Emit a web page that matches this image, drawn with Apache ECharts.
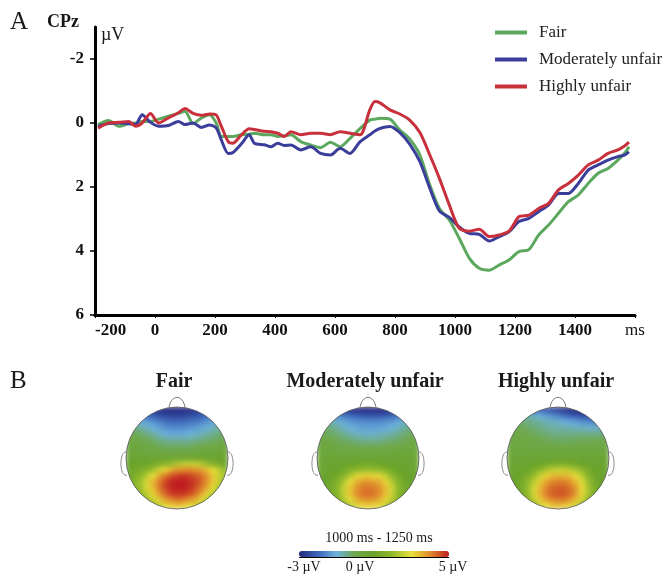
<!DOCTYPE html>
<html>
<head>
<meta charset="utf-8">
<script src="https://cdn.jsdelivr.net/npm/echarts@6/dist/echarts.min.js"></script>
<style>
html,body{margin:0;background:#fff}
#wrap{position:relative;width:670px;height:575px}
#topo,#main{position:absolute;left:0;top:0;width:670px;height:575px}
#topo{filter:blur(2.5px)}
</style>
</head>
<body>
<div id="wrap">
  <div id="topo"></div>
  <div id="main"></div>
</div>
<script>
// ERP at CPz, values in µV (positive plotted downward)
const timesMs = [-190,-155,-120,-87,-65,-43,-15,12,45,78,100,127,155,182,204,221,244,260,288,314,331,364,387,409,431,453,486,519,552,585,617,650,684,716,733,750,783,816,849,883,916,948,981,1014,1048,1081,1114,1147,1180,1213,1246,1279,1312,1345,1378,1411,1444,1477,1510,1543,1565,1580]
const fairUv = [0.05,-0.08,0.1,0.02,0.0,-0.05,-0.05,-0.12,-0.21,-0.3,-0.37,0.02,-0.16,-0.26,0.0,0.42,0.42,0.42,0.37,0.35,0.32,0.37,0.37,0.42,0.4,0.37,0.58,0.69,0.77,0.6,0.74,0.48,0.17,-0.09,-0.12,-0.15,-0.12,0.22,0.5,1.0,1.94,2.67,3.03,3.6,4.23,4.54,4.6,4.44,4.28,4.02,3.96,3.5,3.19,2.82,2.46,2.25,1.89,1.57,1.42,1.16,0.95,0.74]
const moderateUv = [0.1,0.02,0.0,0.02,0.05,-0.26,-0.02,0.1,0.08,-0.05,0.05,0.0,0.14,0.06,0.15,0.53,0.95,0.92,0.65,0.37,0.63,0.68,0.74,0.63,0.7,0.69,0.84,0.74,0.95,1.0,0.79,0.95,0.58,0.37,0.25,0.17,0.11,0.3,0.66,1.21,2.04,2.75,2.95,3.25,3.45,3.48,3.69,3.55,3.4,3.08,2.98,2.77,2.56,2.2,2.2,1.89,1.47,1.31,1.16,1.05,1.0,0.9]
const highlyUv = [0.16,0.0,-0.02,-0.05,0.1,0.0,-0.3,0.0,-0.16,-0.32,-0.45,-0.3,-0.24,-0.28,-0.25,0.1,0.58,0.63,0.37,0.18,0.2,0.26,0.27,0.32,0.42,0.27,0.37,0.32,0.32,0.37,0.27,0.32,0.37,-0.41,-0.67,-0.63,-0.41,-0.28,-0.09,0.3,1.0,1.73,2.56,3.29,3.38,3.32,3.55,3.5,3.38,2.93,2.88,2.67,2.51,2.09,1.89,1.63,1.31,1.16,0.95,0.84,0.72,0.6]

const conditionNames = ['Fair','Moderately unfair','Highly unfair']
const yTicks = [-2,0,2,4,6]

// topographies 1000-1250 ms, 17x17 grid (row 0 = front of head)
const fairTopo = [
  [-1.8,-2,-2.2,-2.4,-2.6,-2.8,-3,-3,-3,-3,-2.9,-2.7,-2.5,-2.2,-2,-1.8,-1.6],
  [-1.4,-1.5,-1.7,-1.9,-2.1,-2.3,-2.4,-2.5,-2.5,-2.5,-2.4,-2.3,-2.1,-1.9,-1.7,-1.5,-1.4],
  [-0.6,-0.8,-1.0,-1.2,-1.4,-1.6,-1.8,-1.9,-1.9,-1.9,-1.8,-1.7,-1.6,-1.4,-1.2,-1.0,-0.8],
  [-0.3,-0.4,-0.6,-0.8,-1.0,-1.2,-1.4,-1.5,-1.5,-1.5,-1.4,-1.3,-1.2,-1.0,-0.8,-0.6,-0.5],
  [0,-0.1,-0.2,-0.4,-0.6,-0.8,-1.0,-1.1,-1.1,-1.1,-1.0,-0.9,-0.8,-0.6,-0.5,-0.3,-0.2],
  [0.2,0.1,0,-0.1,-0.2,-0.4,-0.5,-0.6,-0.6,-0.6,-0.6,-0.5,-0.4,-0.3,-0.2,-0.1,0],
  [0.4,0.3,0.2,0.1,0,-0.1,-0.2,-0.2,-0.2,-0.2,-0.2,-0.1,0,0,0.1,0.2,0.3],
  [0.6,0.5,0.4,0.3,0.3,0.2,0.2,0.2,0.2,0.2,0.2,0.3,0.3,0.3,0.4,0.5,0.6],
  [0.8,0.7,0.6,0.6,0.6,0.6,0.6,0.7,0.7,0.7,0.8,0.8,0.8,0.8,0.8,0.8,0.8],
  [1.0,1.0,1.0,1.1,1.2,1.4,1.7,2.0,2.3,2.5,2.6,2.6,2.4,2.0,1.6,1.3,1.1],
  [1.1,1.2,1.4,1.7,2.1,2.6,3.1,3.5,3.8,3.9,4.0,3.9,3.7,3.4,3.0,2.5,2.0],
  [1.2,1.5,1.9,2.4,3.0,3.6,4.1,4.5,4.7,4.8,4.7,4.5,4.3,3.9,3.3,2.7,2.1],
  [1.3,1.7,2.2,2.8,3.5,4.1,4.6,4.9,5.0,5.0,4.9,4.7,4.4,3.9,3.3,2.6,2.0],
  [1.3,1.7,2.2,2.8,3.4,4.1,4.6,4.9,5.0,5.0,4.9,4.6,4.2,3.7,3.0,2.3,1.8],
  [1.2,1.5,2.0,2.5,3.1,3.8,4.3,4.7,4.8,4.8,4.6,4.3,3.8,3.1,2.4,1.8,1.4],
  [1.0,1.3,1.7,2.1,2.6,3.2,3.7,4.0,4.2,4.1,3.9,3.6,3.1,2.5,2.0,1.6,1.2],
  [0.8,1.0,1.3,1.6,2.0,2.5,2.9,3.2,3.3,3.2,3.0,2.7,2.3,1.9,1.5,1.2,1.0]
]
const moderateTopo = [
  [-1.8,-2,-2.2,-2.4,-2.6,-2.8,-2.9,-3,-3,-3,-3,-2.9,-2.7,-2.5,-2.2,-2,-1.8],
  [-1.0,-1.1,-1.3,-1.5,-1.7,-1.9,-2.0,-2.1,-2.2,-2.2,-2.2,-2.1,-2.0,-1.8,-1.6,-1.4,-1.2],
  [-0.4,-0.5,-0.7,-0.9,-1.1,-1.3,-1.4,-1.5,-1.5,-1.5,-1.5,-1.4,-1.3,-1.1,-0.9,-0.7,-0.5],
  [-0.2,-0.3,-0.4,-0.6,-0.8,-1.0,-1.1,-1.2,-1.2,-1.2,-1.2,-1.1,-1.0,-0.8,-0.6,-0.4,-0.3],
  [0,-0.1,-0.2,-0.3,-0.5,-0.6,-0.8,-0.8,-0.9,-0.9,-0.8,-0.7,-0.6,-0.5,-0.3,-0.2,-0.1],
  [0.2,0.1,0,-0.1,-0.2,-0.3,-0.4,-0.5,-0.5,-0.5,-0.5,-0.4,-0.3,-0.2,-0.1,0,0.1],
  [0.3,0.3,0.2,0.1,0,0,-0.1,-0.1,-0.1,-0.1,-0.1,0,0,0.1,0.2,0.2,0.3],
  [0.5,0.4,0.4,0.3,0.3,0.3,0.3,0.3,0.3,0.3,0.3,0.3,0.3,0.4,0.4,0.5,0.5],
  [0.6,0.6,0.6,0.6,0.6,0.6,0.6,0.6,0.6,0.6,0.6,0.6,0.6,0.6,0.6,0.6,0.6],
  [0.7,0.7,0.7,0.8,0.9,1.0,1.1,1.2,1.2,1.2,1.1,1.0,0.9,0.8,0.7,0.7,0.7],
  [0.8,0.8,0.9,1.0,1.2,1.5,1.8,2.0,2.1,2.0,1.9,1.6,1.3,1.0,0.9,0.8,0.8],
  [0.9,0.9,1.0,1.3,1.7,2.3,2.8,3.1,3.2,3.1,2.9,2.5,1.9,1.4,1.0,0.9,0.8],
  [0.9,1.0,1.2,1.6,2.3,3.0,3.5,3.8,3.9,3.8,3.6,3.1,2.4,1.7,1.2,0.9,0.8],
  [0.9,1.0,1.3,1.8,2.6,3.3,3.8,4.1,4.2,4.1,3.9,3.4,2.7,1.9,1.3,1.0,0.8],
  [0.9,1.0,1.3,1.8,2.6,3.3,3.9,4.2,4.3,4.2,3.9,3.4,2.7,1.9,1.3,1.0,0.8],
  [0.8,0.9,1.2,1.6,2.3,3.0,3.5,3.8,3.9,3.8,3.6,3.1,2.4,1.7,1.2,0.9,0.8],
  [0.7,0.8,1.0,1.3,1.8,2.4,2.8,3.1,3.2,3.1,2.9,2.5,2.0,1.5,1.1,0.8,0.7]
]
const highlyTopo = [
  [-1.0,-1.2,-1.4,-1.6,-1.8,-2.0,-2.2,-2.4,-2.6,-2.8,-2.9,-3,-3,-3,-2.9,-2.7,-2.5],
  [-0.3,-0.4,-0.5,-0.6,-0.8,-1.0,-1.2,-1.4,-1.6,-1.8,-2.0,-2.2,-2.3,-2.4,-2.4,-2.3,-2.2],
  [-0.1,-0.2,-0.3,-0.4,-0.5,-0.6,-0.7,-0.8,-0.9,-1.0,-1.1,-1.2,-1.4,-1.5,-1.6,-1.6,-1.5],
  [0,0,-0.1,-0.2,-0.3,-0.4,-0.5,-0.6,-0.6,-0.7,-0.7,-0.8,-0.8,-0.9,-0.9,-0.9,-0.8],
  [0.1,0.1,0,0,-0.1,-0.2,-0.3,-0.4,-0.4,-0.4,-0.4,-0.4,-0.4,-0.4,-0.4,-0.4,-0.3],
  [0.2,0.2,0.2,0.1,0.1,0,-0.1,-0.1,-0.2,-0.2,-0.2,-0.1,-0.1,-0.1,-0.1,0,0],
  [0.3,0.3,0.3,0.3,0.2,0.2,0.1,0.1,0.1,0.1,0.1,0.1,0.1,0.1,0.1,0.2,0.2],
  [0.4,0.4,0.4,0.4,0.4,0.4,0.4,0.4,0.4,0.4,0.4,0.4,0.4,0.4,0.4,0.4,0.4],
  [0.6,0.6,0.6,0.6,0.6,0.6,0.6,0.7,0.7,0.7,0.7,0.7,0.6,0.6,0.6,0.6,0.6],
  [0.7,0.7,0.7,0.8,0.9,1.0,1.2,1.3,1.4,1.4,1.3,1.2,1.0,0.9,0.8,0.7,0.7],
  [0.8,0.8,0.9,1.1,1.4,1.8,2.2,2.5,2.6,2.6,2.5,2.2,1.8,1.4,1.0,0.9,0.8],
  [0.9,0.9,1.1,1.5,2.0,2.6,3.1,3.4,3.5,3.5,3.4,3.0,2.5,1.8,1.2,0.9,0.8],
  [0.9,1.0,1.3,1.8,2.5,3.2,3.7,4.0,4.1,4.1,3.9,3.5,2.9,2.1,1.4,1.0,0.8],
  [0.9,1.0,1.4,2.0,2.8,3.5,4.0,4.3,4.4,4.4,4.2,3.8,3.1,2.3,1.5,1.1,0.8],
  [0.9,1.0,1.4,2.0,2.8,3.5,4.1,4.4,4.5,4.5,4.3,3.8,3.1,2.3,1.5,1.1,0.8],
  [0.8,0.9,1.3,1.8,2.5,3.2,3.7,4.0,4.1,4.1,3.9,3.4,2.7,2.0,1.3,1.0,0.8],
  [0.7,0.8,1.1,1.5,2.0,2.6,3.0,3.3,3.4,3.3,3.1,2.7,2.2,1.6,1.2,0.9,0.7]
]
const topoMin = -3
const topoMax = 5
const topoColors = ['#25297f', '#3b64b8', '#6cb2dd', '#6fa84a', '#6aa32a', '#93ba2c', '#e8e13a', '#e08a2c', '#c01d20']

const serif = '"Liberation Serif", "Times New Roman", serif'
const lineColors = ['#5ca85f', '#3b3d9b', '#c8303b']
const headCx = [177, 368, 558]
const headCy = 458
const headR = 51
const N = 17

// ---- scalp maps (own layer, softened a little) ----
const topoChart = echarts.init(document.getElementById('topo'))

// cells of each map, keeping the ones near the scalp disc
function topoCells(m){
  const out = []
  for(let r = 0; r < N; r++){
    for(let c = 0; c < N; c++){
      const nx = (2 * c + 1) / N - 1
      const ny = (2 * r + 1) / N - 1
      if(nx * nx + ny * ny <= 1.38) out.push([c, r, m[r][c]])
    }
  }
  return out
}

const idx = Array.from({length: N}, (_, i) => i)
topoChart.setOption({
  animation: false,
  grid: headCx.map(cx => ({left: cx - headR, top: headCy - headR, width: headR * 2, height: headR * 2})),
  xAxis: headCx.map((cx, i) => ({type: 'category', gridIndex: i, data: idx, show: false})),
  yAxis: headCx.map((cx, i) => ({type: 'category', gridIndex: i, data: idx, show: false, inverse: true})),
  visualMap: {type: 'continuous', show: false, min: topoMin, max: topoMax, inRange: {color: topoColors}},
  series: [fairTopo, moderateTopo, highlyTopo].map((m, i) => ({
    type: 'heatmap',
    xAxisIndex: i,
    yAxisIndex: i,
    data: topoCells(m),
    silent: true,
    itemStyle: {borderWidth: 0}
  }))
})

// ---- waveforms, labels, head outlines, colour bar ----
const chart = echarts.init(document.getElementById('main'))

const lineSeries = [fairUv, moderateUv, highlyUv].map((vals, i) => ({
  type: 'line',
  name: conditionNames[i],
  data: timesMs.map((t, k) => [t, vals[k]]),
  showSymbol: false,
  smooth: 0.25,
  lineStyle: {width: 3, color: lineColors[i]},
  itemStyle: {color: lineColors[i]},
  emphasis: {disabled: true},
  z: 3 + i
}))

// white mask round each disc, outline, nose and ears
const headGraphics = []
headCx.forEach(cx => {
  const cy = headCy, R = headR
  headGraphics.push(
    {type: 'ring', shape: {cx: cx, cy: cy, r: R + 20, r0: R}, style: {fill: '#fff'}, z: 100, silent: true},
    {type: 'circle', shape: {cx: cx, cy: cy, r: R}, style: {fill: 'none', stroke: '#555', lineWidth: 0.8}, z: 101, silent: true},
    {type: 'bezierCurve', shape: {x1: cx - 8, y1: cy - R + 0.5, cpx1: cx - 6, cpy1: cy - R - 13, cpx2: cx + 6, cpy2: cy - R - 13, x2: cx + 8, y2: cy - R + 0.5},
      style: {fill: 'none', stroke: '#777', lineWidth: 1}, z: 101, silent: true},
    {type: 'bezierCurve', shape: {x1: cx - R + 0.5, y1: cy - 6, cpx1: cx - R - 7, cpy1: cy - 8, cpx2: cx - R - 7, cpy2: cy + 20, x2: cx - R + 1, y2: cy + 17},
      style: {fill: 'none', stroke: '#888', lineWidth: 1}, z: 101, silent: true},
    {type: 'bezierCurve', shape: {x1: cx + R - 0.5, y1: cy - 6, cpx1: cx + R + 7, cpy1: cy - 8, cpx2: cx + R + 7, cpy2: cy + 20, x2: cx + R - 1, y2: cy + 17},
      style: {fill: 'none', stroke: '#888', lineWidth: 1}, z: 101, silent: true}
  )
})

function txt(text, x, y, font, align){
  return {type: 'text', x: x, y: y, z: 110, silent: true,
    style: {text: text, font: font, fill: '#1a1a1a', align: align || 'left', textAlign: align || 'left', verticalAlign: 'middle', textVerticalAlign: 'middle'}}
}

chart.setOption({
  animation: false,
  backgroundColor: 'transparent',
  grid: {left: 95, top: 27, width: 540, height: 288},
  xAxis: {
    type: 'value', min: -200, max: 1600, interval: 200,
    axisLine: {onZero: false, lineStyle: {color: '#000', width: 3}},
    axisTick: {length: 3, lineStyle: {color: '#000', width: 1}},
    splitLine: {show: false},
    axisLabel: {
      margin: 7, color: '#111', fontFamily: serif, fontWeight: 'bold', fontSize: 17,
      alignMinLabel: 'left',
      formatter: v => v === 1600 ? '{u|ms}' : String(v),
      rich: {u: {fontFamily: serif, fontWeight: 'normal', fontSize: 17, color: '#111'}}
    }
  },
  yAxis: {
    type: 'value', inverse: true, min: -3, max: 6,
    axisLine: {show: true, onZero: false, lineStyle: {color: '#000', width: 3}},
    axisTick: {show: true, length: 5, customValues: yTicks, lineStyle: {color: '#000', width: 1.5}},
    splitLine: {show: false},
    axisLabel: {customValues: yTicks, margin: 11, color: '#111', fontFamily: serif, fontWeight: 'bold', fontSize: 17}
  },
  legend: {
    data: conditionNames,
    orient: 'vertical',
    left: 490, top: 19,
    icon: 'rect',
    itemWidth: 32, itemHeight: 4,
    itemGap: 10,
    textStyle: {fontFamily: serif, fontSize: 17, color: '#222', padding: [0, 0, 0, 7]}
  },
  visualMap: {
    type: 'continuous',
    seriesIndex: [],
    min: topoMin, max: topoMax,
    orient: 'horizontal',
    left: 299, top: 551,
    itemWidth: 6, itemHeight: 150,
    padding: 0,
    calculable: false,
    inRange: {color: topoColors}
  },
  graphic: headGraphics.concat([
    txt('A', 10, 22, '25px ' + serif),
    txt('CPz', 47, 22, 'bold 18px ' + serif),
    txt('µV', 101, 35, '18px ' + serif),
    txt('B', 10, 381, '25px ' + serif),
    txt('Fair', 174, 382, 'bold 20px ' + serif, 'center'),
    txt('Moderately unfair', 365, 382, 'bold 20px ' + serif, 'center'),
    txt('Highly unfair', 556, 382, 'bold 20px ' + serif, 'center'),
    txt('1000 ms - 1250 ms', 379, 538, '14px ' + serif, 'center'),
    txt('-3 µV', 304, 567, '14px ' + serif, 'center'),
    txt('0 µV', 360, 567, '14px ' + serif, 'center'),
    txt('5 µV', 453, 567, '14px ' + serif, 'center'),
    {type: 'line', shape: {x1: 299, y1: 557.5, x2: 449, y2: 557.5}, style: {stroke: '#000', lineWidth: 1.2}, z: 110, silent: true}
  ]),
  series: lineSeries
})
</script>
</body>
</html>
